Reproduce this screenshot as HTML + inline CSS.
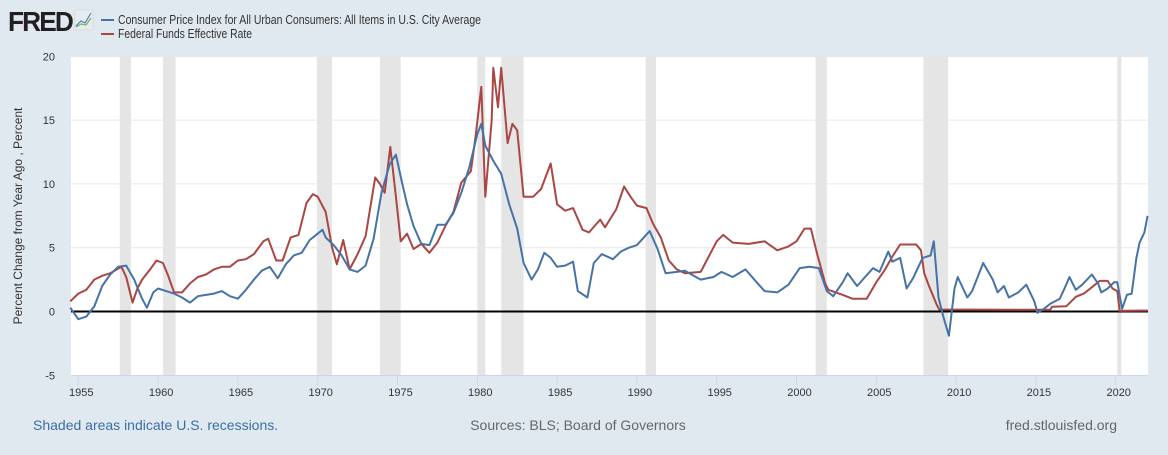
<!DOCTYPE html>
<html><head><meta charset="utf-8"><style>
body{margin:0;background:#e1e9f0;width:1168px;height:450px;overflow:hidden;font-family:"Liberation Sans",Arial,sans-serif}
</style></head><body>
<svg id="c" width="1168" height="450" xmlns="http://www.w3.org/2000/svg">
<rect width="1168" height="450" fill="#e1e9f0"/>
<g>
<text x="8" y="31" font-size="28" font-weight="bold" fill="#231f20" letter-spacing="-2" textLength="64" lengthAdjust="spacingAndGlyphs">FRED</text>
<rect x="75" y="10" width="18" height="20" fill="#e6ecef" stroke="#ccc" stroke-width="0.5"/>
<polyline points="76,26 81,21 85,23 91,13" fill="none" stroke="#4a7fc0" stroke-width="1.2"/>
<polyline points="76,27 81,24 86,25 91,18" fill="none" stroke="#7ab04a" stroke-width="1.2"/>
</g>
<g>
<line x1="101" y1="20" x2="114" y2="20" stroke="#4572a7" stroke-width="2"/>
<text x="118" y="24" font-size="12.5" fill="#333" textLength="363" lengthAdjust="spacingAndGlyphs">Consumer Price Index for All Urban Consumers: All Items in U.S. City Average</text>
<line x1="101" y1="34" x2="114" y2="34" stroke="#aa4643" stroke-width="2"/>
<text x="118" y="38" font-size="12.5" fill="#333" textLength="134" lengthAdjust="spacingAndGlyphs">Federal Funds Effective Rate</text>
</g>
<rect x="71" y="57" width="1077" height="318" fill="#fff"/>
<g id="rec"></g><g id="grid"></g><g id="axes"></g><g id="series"></g>
<text transform="translate(22,216) rotate(-90)" text-anchor="middle" font-size="12" fill="#333">Percent Change from Year Ago , Percent</text>
<text x="33" y="430" font-size="14" fill="#3a6ea5">Shaded areas indicate U.S. recessions.</text>
<text x="578" y="430" font-size="14" fill="#666" text-anchor="middle">Sources: BLS; Board of Governors</text>
<text x="1117" y="430" font-size="14" fill="#666" text-anchor="end">fred.stlouisfed.org</text>
</svg>
<script>
const recessions=[[1957.6,1958.3],[1960.3,1961.1],[1969.95,1970.9],[1973.9,1975.2],[1980.0,1980.5],[1981.5,1982.9],[1990.55,1991.2],[2001.2,2001.9],[2007.95,2009.5],[2020.1,2020.35]];
const yTicks=[-5,0,5,10,15,20];
const xTicks=[1955,1960,1965,1970,1975,1980,1985,1990,1995,2000,2005,2010,2015,2020];
const cpiT=[1954.5,1955.0,1955.5,1956.0,1956.5,1957.0,1957.5,1958.0,1958.5,1959.0,1959.3,1959.7,1960.0,1960.5,1961.0,1961.5,1962.0,1962.5,1963.0,1963.5,1964.0,1964.5,1965.0,1965.5,1966.0,1966.5,1967.0,1967.5,1968.0,1968.5,1969.0,1969.5,1970.0,1970.3,1970.5,1971.0,1971.5,1972.0,1972.5,1973.0,1973.5,1974.0,1974.5,1974.9,1975.3,1975.6,1976.0,1976.5,1977.0,1977.5,1978.0,1978.5,1979.0,1979.5,1980.0,1980.25,1980.5,1981.0,1981.5,1982.0,1982.5,1982.9,1983.4,1983.8,1984.2,1984.6,1985.0,1985.5,1986.0,1986.3,1986.9,1987.3,1987.8,1988.5,1989.0,1989.5,1990.0,1990.8,1991.3,1991.8,1992.5,1993.0,1994.0,1994.8,1995.3,1996.0,1996.8,1997.5,1998.0,1998.8,1999.5,2000.2,2000.8,2001.4,2001.9,2002.3,2002.9,2003.2,2003.8,2004.3,2004.8,2005.2,2005.75,2006.0,2006.5,2006.9,2007.3,2007.9,2008.4,2008.6,2008.9,2009.2,2009.55,2009.9,2010.1,2010.7,2011.0,2011.7,2012.3,2012.6,2013.0,2013.3,2013.9,2014.4,2014.9,2015.1,2015.5,2015.9,2016.5,2016.9,2017.1,2017.5,2017.9,2018.5,2018.9,2019.1,2019.5,2019.9,2020.1,2020.4,2020.7,2021.0,2021.3,2021.5,2021.8,2022.0];
const cpiV=[0.3,-0.6,-0.4,0.4,2.0,2.9,3.5,3.6,2.5,1.0,0.3,1.5,1.8,1.6,1.4,1.1,0.7,1.2,1.3,1.4,1.6,1.2,1.0,1.7,2.5,3.2,3.5,2.6,3.7,4.4,4.6,5.6,6.1,6.4,5.8,5.2,4.4,3.3,3.1,3.6,5.7,9.3,11.5,12.3,10.0,8.4,6.7,5.3,5.2,6.8,6.8,7.7,9.3,11.3,13.9,14.7,13.0,11.8,10.8,8.4,6.5,3.8,2.5,3.3,4.6,4.2,3.5,3.6,3.9,1.6,1.1,3.8,4.5,4.1,4.7,5.0,5.2,6.3,4.9,3.0,3.1,3.2,2.5,2.7,3.1,2.7,3.3,2.3,1.6,1.5,2.1,3.4,3.5,3.4,1.6,1.2,2.3,3.0,2.0,2.7,3.4,3.1,4.7,3.9,4.2,1.8,2.6,4.2,4.4,5.5,1.1,-0.4,-1.9,1.8,2.7,1.1,1.6,3.8,2.5,1.5,2.0,1.1,1.5,2.1,0.8,-0.1,0.2,0.6,1.0,2.1,2.7,1.7,2.1,2.9,2.2,1.5,1.8,2.3,2.3,0.2,1.3,1.4,4.2,5.4,6.2,7.5];
const ffrT=[1954.5,1955.0,1955.5,1956.0,1956.5,1957.0,1957.7,1958.0,1958.4,1958.7,1959.0,1959.5,1959.9,1960.3,1960.6,1961.0,1961.5,1962.0,1962.5,1963.0,1963.5,1964.0,1964.5,1965.0,1965.5,1966.0,1966.6,1966.9,1967.4,1967.8,1968.3,1968.8,1969.3,1969.7,1970.0,1970.5,1970.9,1971.2,1971.6,1972.0,1972.5,1973.0,1973.6,1973.9,1974.2,1974.55,1974.9,1975.2,1975.6,1976.0,1976.5,1977.0,1977.5,1978.0,1978.5,1979.0,1979.6,1979.9,1980.25,1980.5,1980.9,1981.0,1981.3,1981.5,1981.9,1982.2,1982.5,1982.9,1983.5,1984.0,1984.6,1985.0,1985.5,1986.0,1986.6,1987.0,1987.7,1988.0,1988.7,1989.2,1989.6,1990.0,1990.6,1991.0,1991.5,1992.0,1992.5,1993.0,1994.0,1994.5,1995.0,1995.4,1996.0,1997.0,1998.0,1998.8,1999.5,2000.0,2000.5,2000.9,2001.3,2001.8,2002.0,2002.9,2003.5,2004.4,2005.0,2005.5,2006.0,2006.5,2007.5,2007.8,2008.0,2008.3,2008.8,2008.95,2015.9,2016.0,2016.9,2017.1,2017.5,2018.0,2018.5,2019.0,2019.5,2019.8,2020.1,2020.25,2022.0];
const ffrV=[0.8,1.4,1.7,2.5,2.8,3.0,3.5,2.7,0.7,1.8,2.5,3.3,4.0,3.8,2.9,1.5,1.5,2.2,2.7,2.9,3.3,3.5,3.5,4.0,4.1,4.5,5.5,5.7,4.0,4.0,5.8,6.0,8.5,9.2,9.0,7.8,5.0,3.7,5.6,3.3,4.5,5.9,10.5,10.0,9.3,12.9,9.0,5.5,6.1,4.9,5.3,4.6,5.4,6.7,7.8,10.1,11.0,13.8,17.6,9.0,15.0,19.1,16.0,19.1,13.2,14.7,14.2,9.0,9.0,9.6,11.6,8.4,7.9,8.1,6.4,6.2,7.2,6.6,8.0,9.8,9.0,8.3,8.1,6.9,5.8,4.0,3.3,3.0,3.1,4.3,5.5,6.0,5.4,5.3,5.5,4.8,5.1,5.5,6.5,6.5,4.5,2.2,1.7,1.3,1.0,1.0,2.3,3.2,4.3,5.25,5.25,4.8,3.0,2.0,0.5,0.16,0.13,0.37,0.41,0.65,1.15,1.4,1.9,2.4,2.4,1.8,1.6,0.05,0.08];
const X=t=>78.3+(t-1955)*15.96;
const Y=v=>311.5-v*12.76;
const NS='http://www.w3.org/2000/svg';
function mk(tag,parent,attrs){const e=document.createElementNS(NS,tag);for(const k in attrs)e.setAttribute(k,attrs[k]);document.getElementById(parent).appendChild(e);return e;}
recessions.forEach(r=>{const e=mk('rect','rec',{x:X(r[0]),y:57,width:X(r[1])-X(r[0]),height:318,fill:'#e5e5e5'});

});
yTicks.forEach(v=>{if(v!==-5&&v!==0){const g=mk('line','grid',{x1:71,x2:1148,y1:Y(v),y2:Y(v),stroke:'#e6e6e6','stroke-width':1});

}
const t=mk('text','axes',{x:55,y:Y(v)+4,'text-anchor':'end','font-size':11,fill:'#333'});t.textContent=v;

});
const ax=mk('line','axes',{x1:71,x2:1148,y1:375.5,y2:375.5,stroke:'#ccd6eb','stroke-width':1});


xTicks.forEach(t=>{const l=mk('line','axes',{x1:X(t),x2:X(t),y1:375,y2:385,stroke:'#ccd6eb'});


const s=mk('text','axes',{x:X(t)+3,y:396,'text-anchor':'middle','font-size':11,fill:'#333'});s.textContent=t;

});
const zl=mk('line','axes',{x1:71,x2:1148,y1:Y(0),y2:Y(0),stroke:'#000','stroke-width':2});


function series(T,V,col){const p=mk('polyline','series',{points:T.map((t,i)=>X(t).toFixed(1)+','+Y(V[i]).toFixed(1)).join(' '),fill:'none',stroke:col,'stroke-width':2,'stroke-linejoin':'round'});return p;}
const ff=series(ffrT,ffrV,'#aa4643');


const cp=series(cpiT,cpiV,'#4572a7');


</script>
</body></html>
